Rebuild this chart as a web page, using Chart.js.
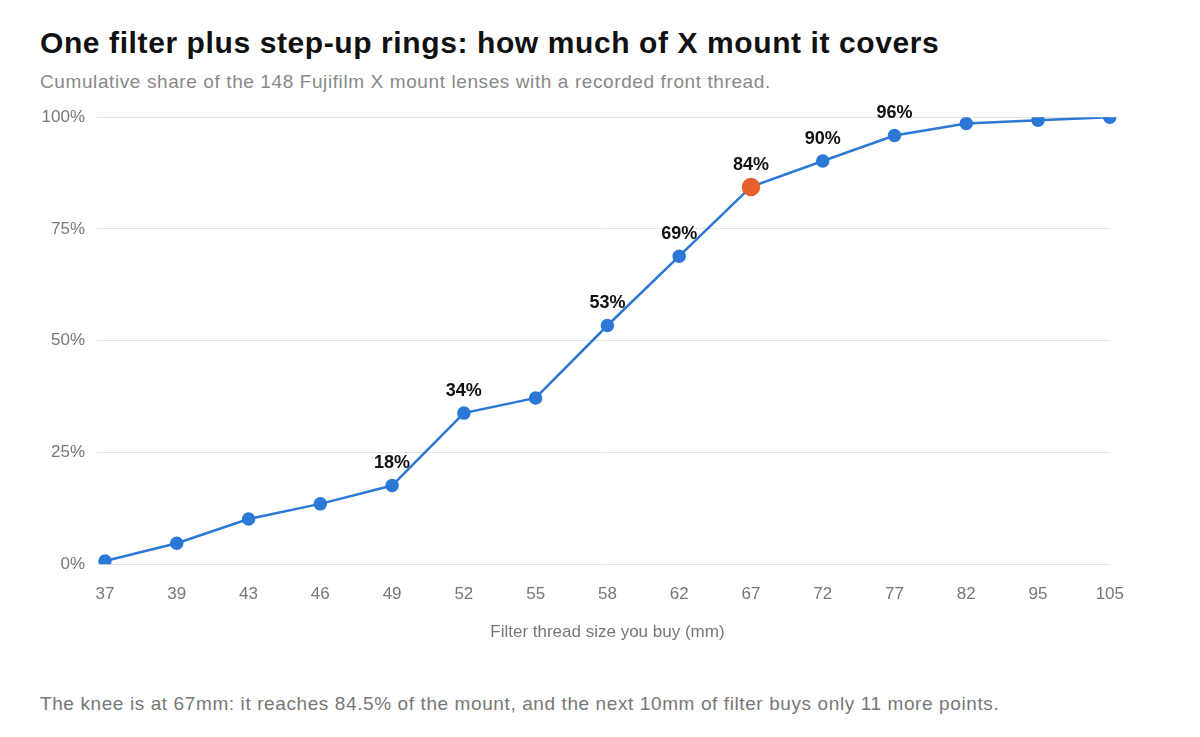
<!DOCTYPE html>
<html>
<head>
<meta charset="utf-8">
<script src="https://cdn.jsdelivr.net/npm/chart.js@4"></script>
<style>
	body { margin: 0; background: #fff; font-family: "Liberation Sans", Arial, sans-serif; }
	#title { position: absolute; left: 40px; top: 26px; font-size: 30px; font-weight: bold; color: #111; letter-spacing: 0.6px; }
	#subtitle { position: absolute; left: 40px; top: 71px; font-size: 19px; color: #888; letter-spacing: 0.6px; }
	#note { position: absolute; left: 40px; top: 693px; font-size: 19px; color: #777; letter-spacing: 0.6px; }
	#wrap { position: absolute; left: 0; top: 95px; width: 1136px; height: 552px; }
</style>
</head>
<body>
<div id="title">One filter plus step-up rings: how much of X mount it covers</div>
<div id="subtitle">Cumulative share of the 148 Fujifilm X mount lenses with a recorded front thread.</div>
<div id="wrap"><canvas id="chart"></canvas></div>
<div id="note">The knee is at 67mm: it reaches 84.5% of the mount, and the next 10mm of filter buys only 11 more points.</div>
<script>
var sizes = ["37", "39", "43", "46", "49", "52", "55", "58", "62", "67", "72", "77", "82", "95", "105"];
var coverage = [0.7, 4.7, 10.1, 13.5, 17.6, 33.8, 37.2, 53.4, 68.9, 84.4, 90.2, 95.9, 98.6, 99.3, 100];
var labelled = ["49", "52", "58", "62", "67", "72", "77"];
var kneeSize = "67";

var pointColors = [];
var pointSizes = [];
for (var i = 0; i < sizes.length; ++i) {
	var knee = sizes[i] == kneeSize;
	pointColors.push(knee ? "#e8602c" : "#2b78d6");
	pointSizes.push(knee ? 8 : 5.5);
}

// draws the bold percent labels above selected points
var valueLabels = {
	id: "valueLabels",
	afterDatasetsDraw: function(chart) {
		var ctx = chart.ctx;
		var meta = chart.getDatasetMeta(0);
		ctx.save();
		ctx.font = "bold 18px 'Liberation Sans', Arial, sans-serif";
		ctx.fillStyle = "#111";
		ctx.textAlign = "center";
		ctx.textBaseline = "bottom";
		for (var i = 0; i < sizes.length; ++i) {
			if (labelled.indexOf(sizes[i]) < 0) continue;
			var pt = meta.data[i];
			ctx.fillText(Math.round(coverage[i]) + "%", pt.x, pt.y - 13);
		}
		ctx.restore();
	}
};

new Chart(document.getElementById("chart"), {
	type: "line",
	data: {
		labels: sizes,
		datasets: [{
			data: coverage,
			borderColor: "#2b78d6",
			borderWidth: 2.5,
			pointBackgroundColor: pointColors,
			pointBorderColor: pointColors,
			pointRadius: pointSizes,
			tension: 0
		}]
	},
	options: {
		responsive: true,
		maintainAspectRatio: false,
		animation: false,
		layout: { padding: { left: 30, right: 26, top: 15, bottom: 0 } },
		plugins: { legend: { display: false }, tooltip: { enabled: false } },
		scales: {
			x: {
				offset: false,
				grid: { display: false },
				border: { display: false },
				ticks: { color: "#777", font: { size: 17 }, padding: 12 },
				title: { display: true, text: "Filter thread size you buy (mm)", color: "#777", font: { size: 17 }, padding: { top: 6 } }
			},
			y: {
				min: 0,
				max: 100,
				afterFit: function(axis) { axis.width = 75; },
				grid: { color: "#e3e3e3" },
				border: { display: false },
				ticks: {
					stepSize: 25,
					color: "#777",
					font: { size: 17 },
					padding: 12,
					callback: function(v) { return v + "%"; }
				}
			}
		}
	},
	plugins: [valueLabels]
});
</script>
</body>
</html>
